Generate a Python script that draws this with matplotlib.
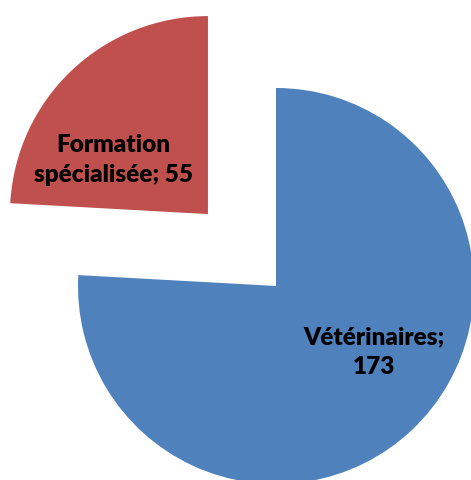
import matplotlib
matplotlib.use("Agg")
import matplotlib.pyplot as plt

# Données
categories = ["Vétérinaires", "Formation spécialisée"]
values = [173, 55]
colors = ["#4F81BD", "#C0504D"]
explode = [0, 0.5]

fig = plt.figure(figsize=(4.71, 4.80), dpi=100)
ax = fig.add_axes([0, 0, 1, 1])

wedges, _ = ax.pie(values, colors=colors, explode=explode, startangle=90,
                   counterclock=False, radius=1.0)

# Étiquettes (nom; valeur)
ax.text(0.495, -0.333, f"{categories[0]};\n{values[0]}", ha="center", va="center",
        fontsize=17.5, fontweight="heavy", family=["Lato", "DejaVu Sans"],
        linespacing=1.45)
ax.text(-0.823, 0.636, "Formation\nspécialisée; " + str(values[1]), ha="center",
        va="center", fontsize=17.5, fontweight="heavy", family=["Lato", "DejaVu Sans"],
        linespacing=1.45)

ax.set_xlim(-276 / 198, 195 / 198)
ax.set_ylim(-194 / 198, 286 / 198)
ax.set_aspect("auto")
ax.axis("off")

fig.savefig("out.png", dpi=100)
